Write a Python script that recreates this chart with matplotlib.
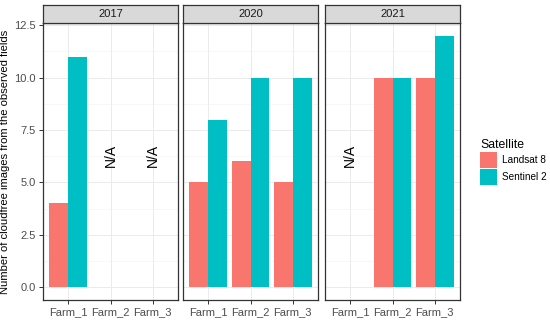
import matplotlib
matplotlib.use("Agg")
import matplotlib.pyplot as plt
from matplotlib.patches import Patch
import numpy as np

plt.rcParams['font.family'] = ['Liberation Sans', 'DejaVu Sans']

years = ["2017", "2020", "2021"]
farms = ["Farm_1", "Farm_2", "Farm_3"]
satellites = ["Landsat 8", "Sentinel 2"]
colors = ["#F8766D", "#00BFC4"]
landsat8 = {"2017": [4, None, None], "2020": [5, 6, 5], "2021": [None, 10, 10]}
sentinel2 = {"2017": [11, None, None], "2020": [8, 10, 10], "2021": [None, 10, 12]}
na_pos = {"2017": [1, 2], "2020": [], "2021": [0]}
na_y = 6.3

W, H = 550, 323
fig = plt.figure(figsize=(W / 100, H / 100), dpi=100)
lefts = [43, 183, 325]
pw = 135
top, bottom = 23, 300
strip_h = 18

for i, yr in enumerate(years):
    ax = fig.add_axes([lefts[i] / W, (H - bottom) / H, pw / W, (bottom - top) / H])
    x = np.arange(1, 4)
    bw = 0.45
    for j, vals in enumerate([landsat8[yr], sentinel2[yr]]):
        for k, v in enumerate(vals):
            if v is None:
                continue
            ax.bar(x[k] + (j - 0.5) * bw, v, width=bw, color=colors[j], zorder=3)
    for k in na_pos[yr]:
        ax.text(x[k], na_y, "N/A", rotation=90, ha="center", va="center",
                fontsize=10, color="black", zorder=4)
    ax.set_xlim(0.4, 3.6)
    ax.set_ylim(-0.6, 12.6)
    ax.set_yticks([0, 2.5, 5, 7.5, 10, 12.5])
    ax.set_yticks([1.25, 3.75, 6.25, 8.75, 11.25], minor=True)
    ax.set_xticks(x)
    ax.set_xticklabels(farms)
    ax.grid(True, which="major", color="#EBEBEB", lw=0.7, zorder=0)
    ax.grid(True, which="minor", axis="y", color="#F2F2F2", lw=0.4, zorder=0)
    ax.set_axisbelow(True)
    for s in ax.spines.values():
        s.set_color("#333333")
        s.set_linewidth(0.9)
    ax.tick_params(axis="both", which="major", colors="#333333", labelcolor="#4D4D4D",
                   labelsize=8, length=3, width=0.7, pad=2)
    ax.tick_params(axis="y", which="minor", length=0)
    if i == 0:
        ax.set_yticklabels(["0.0", "2.5", "5.0", "7.5", "10.0", "12.5"])
        ax.set_ylabel("Number of cloudfree images from the observed fields",
                      fontsize=8.1, color="black", labelpad=3)
    else:
        ax.tick_params(axis="y", left=False, labelleft=False)
    # strip
    sax = fig.add_axes([lefts[i] / W, (H - top) / H, pw / W, strip_h / H])
    sax.set_xticks([]); sax.set_yticks([])
    sax.set_facecolor("#D9D9D9")
    for s in sax.spines.values():
        s.set_color("#333333")
        s.set_linewidth(0.9)
    sax.text(0.5, 0.5, yr, ha="center", va="center", fontsize=8, color="#1A1A1A",
             transform=sax.transAxes)

handles = [Patch(facecolor=c, edgecolor="none") for c in colors]
fig.legend(handles, satellites, title="Satellite", loc="upper left",
           bbox_to_anchor=(472 / W, 1 - 131 / H), frameon=False, fontsize=7.2,
           title_fontsize=8.8, handlelength=1.7, handleheight=2.1,
           labelspacing=0.1, handletextpad=0.5, alignment="left",
           borderpad=0.3)

fig.savefig("out.png", dpi=100)
